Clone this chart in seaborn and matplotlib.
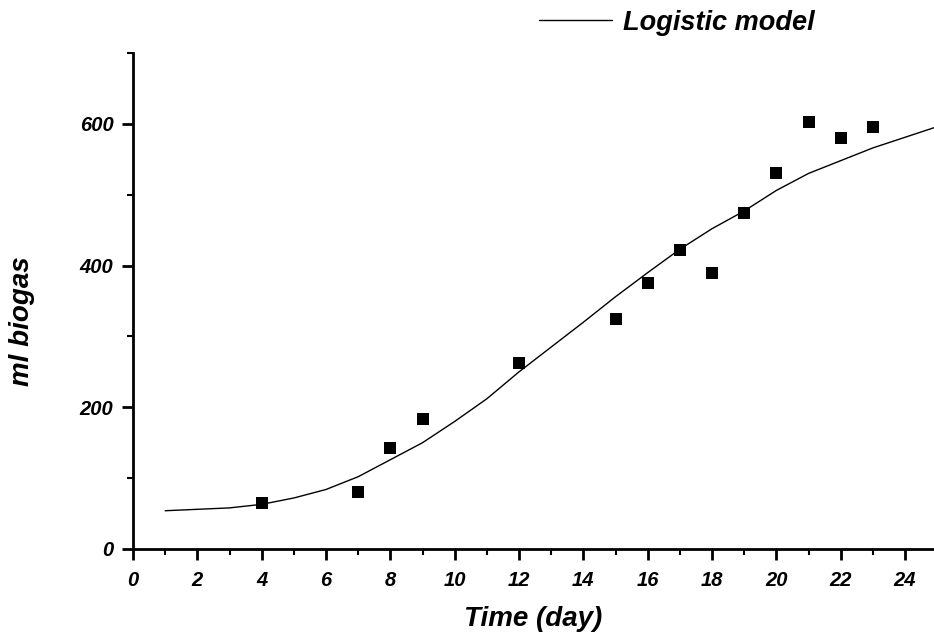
import matplotlib
matplotlib.use("Agg")
import matplotlib.pyplot as plt
import seaborn as sns
import pandas as pd
from matplotlib.ticker import MultipleLocator

# measured biogas volumes (ml) per day
days = [4, 7, 8, 9, 12, 15, 16, 17, 18, 19, 20, 21, 22, 23]
biogas = [65, 81, 143, 184, 262, 324, 375, 422, 390, 474, 530, 603, 580, 595]

# logistic model curve
model_days = [1, 2, 3, 4, 5, 6, 7, 8, 9, 10, 11, 12, 13, 14, 15, 16, 17, 18, 19, 20, 21, 22, 23, 24, 25]
model_biogas = [54, 56, 58, 63, 72, 84, 102, 126, 150, 180, 212, 250, 285, 320, 356, 390, 423, 452, 477, 506, 530, 548, 566, 581, 596]

sns.set_style("ticks")
plt.rcParams["font.family"] = ["Liberation Sans", "DejaVu Sans"]
plt.rcParams["text.color"] = "black"
plt.rcParams["axes.labelcolor"] = "black"
plt.rcParams["xtick.color"] = "black"
plt.rcParams["ytick.color"] = "black"

fig = plt.figure(figsize=(9.34, 6.38), dpi=100)
ax = fig.add_axes([0.1424, 0.1395, 0.8576, 0.7775])

df_model = pd.DataFrame({"day": model_days, "ml": model_biogas})
df_obs = pd.DataFrame({"day": days, "ml": biogas})

sns.lineplot(data=df_model, x="day", y="ml", ax=ax, color="black", linewidth=1.0,
             label="Logistic model")
sns.scatterplot(data=df_obs, x="day", y="ml", ax=ax, color="black", marker="s",
                s=80, edgecolor="black", linewidth=0, zorder=3)

ax.set_xlim(0, 24.9)
ax.set_ylim(0, 700)
ax.xaxis.set_major_locator(MultipleLocator(2))
ax.xaxis.set_minor_locator(MultipleLocator(1))
ax.yaxis.set_major_locator(MultipleLocator(200))
ax.yaxis.set_minor_locator(MultipleLocator(100))

for side in ["top", "right"]:
    ax.spines[side].set_visible(False)
for side in ["left", "bottom"]:
    ax.spines[side].set_linewidth(2)
    ax.spines[side].set_color("black")

ax.tick_params(which="major", direction="out", length=8, width=2, color="black")
ax.tick_params(which="minor", direction="out", length=4, width=1.5, color="black")
ax.tick_params(axis="x", which="major", pad=8)
ax.tick_params(axis="y", which="major", pad=6)

for lab in ax.get_xticklabels() + ax.get_yticklabels():
    lab.set_fontsize(14.5)
    lab.set_fontweight("bold")
    lab.set_fontstyle("italic")
    lab.set_color("black")

ax.set_xlabel("Time (day)", fontsize=20, fontweight="bold", fontstyle="italic")
ax.set_ylabel("ml biogas", fontsize=20, fontweight="bold", fontstyle="italic")
ax.xaxis.set_label_coords(0.5, -0.115)
ax.yaxis.set_label_coords(-0.122, 0.46)

handles, labels = ax.get_legend_handles_labels()
ax.legend(handles[:1], labels[:1], loc="center left", bbox_to_anchor=(0.577, 0.964),
          bbox_transform=fig.transFigure, frameon=False, handlelength=2.7,
          handletextpad=0.4, borderpad=0, borderaxespad=0,
          prop={"size": 19.5, "weight": "bold", "style": "italic"})

fig.savefig("out.png", dpi=100)
